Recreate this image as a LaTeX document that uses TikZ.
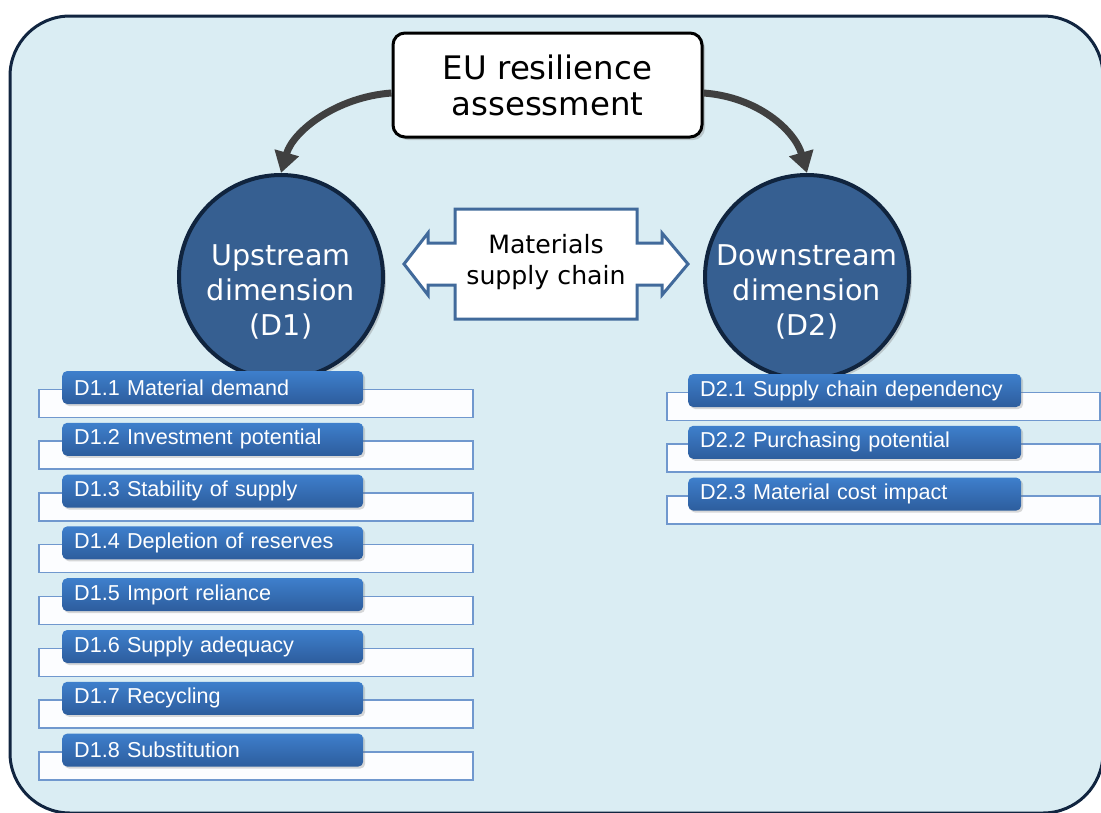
\documentclass[tikz,border=0pt]{standalone}
\usepackage{fontspec}
\setmainfont{Liberation Sans}
\newfontfamily\verdana{DejaVu Sans}
\usetikzlibrary{arrows.meta,shadows}

\definecolor{paneblue}{RGB}{218,237,243}
\definecolor{frameedge}{RGB}{17,37,64}
\definecolor{circlefill}{RGB}{54,95,145}
\definecolor{circleedge}{RGB}{16,36,62}
\definecolor{arrowgrey}{RGB}{64,64,64}
\definecolor{calloutedge}{RGB}{65,106,155}
\definecolor{bartop}{RGB}{62,127,204}
\definecolor{barbottom}{RGB}{45,93,157}
\definecolor{itemedge}{RGB}{112,152,206}
\definecolor{itemfill}{RGB}{252,253,255}

\tikzset{
  dimcircle/.style={circle, draw=circleedge, line width=4pt, fill=circlefill,
    minimum size=204pt, inner sep=0pt,
    drop shadow={shadow xshift=3pt, shadow yshift=-3pt, opacity=0.35}},
  dimtext/.style={text=white, align=center, font=\verdana\fontsize{28.6}{35}\selectfont},
  itemback/.style={draw=itemedge, line width=1.5pt, fill=itemfill, anchor=north west,
    minimum height=28pt, inner sep=0pt},
  itembar/.style={rounded corners=5pt, top color=bartop, bottom color=barbottom,
    minimum height=33pt, text=white, align=left, inner xsep=12pt, inner ysep=0pt, anchor=west,
    font=\fontsize{21.6}{25}\selectfont,
    drop shadow={shadow xshift=2pt, shadow yshift=-2pt, opacity=0.3}},
  bigarrow/.style={draw=arrowgrey, line width=7pt, -{Triangle[width=24pt,length=21pt]}},
}

\begin{document}
\begin{tikzpicture}[x=1pt,y=-1pt]
\useasboundingbox (0,0) rectangle (1101,812);
\clip (0,0) rectangle (1101,812);

% outer panel
\draw[draw=frameedge, line width=3pt, fill=paneblue, rounded corners=60pt] (10,16) rectangle (1103,813);

% the two dimensions
\node[dimcircle] (up) at (281,277) {};
\node[dimcircle] (down) at (807,277) {};
\node[dimtext] (uptext) at (281,292) {Upstream\\dimension\\(D1)};
\node[dimtext] (downtext) at (807,292) {Downstream\\dimension\\(D2)};

% top box
\node[draw=black, line width=3pt, fill=white, rounded corners=12pt,
  minimum width=309pt, minimum height=104pt, align=center,
  font=\verdana\fontsize{32.4}{36}\selectfont,
  drop shadow={shadow xshift=3pt, shadow yshift=-3pt, opacity=0.35}]
  (eu) at (547.5,85) {EU resilience\\assessment};

\draw[bigarrow] ([yshift=-8pt]eu.west) .. controls +(-55,4) and +(12,-42) .. (up.north);
\draw[bigarrow] ([yshift=-8pt]eu.east) .. controls +(55,4) and +(-12,-42) .. (down.north);

% double headed callout between the circles
\draw[draw=calloutedge, line width=3pt, fill=white, line join=miter]
  (455,209) -- (637,209) -- (637,243) -- (662,243) -- (662,233) -- (688,264)
  -- (662,295) -- (662,285) -- (637,285) -- (637,319) -- (455,319) -- (455,285)
  -- (428,285) -- (428,295) -- (404,264) -- (428,233) -- (428,243) -- (455,243) -- cycle;
\node[align=center, font=\verdana\fontsize{25.2}{31}\selectfont] (chain) at (546,262) {Materials\\supply chain};

% upstream indicators
\node[itemback, minimum width=434pt] (b11) at (38,388.5) {};
\node[itembar, text width=277pt] (d11) at (62,387.5) {D1.1 Material demand};
\node[itemback, minimum width=434pt] (b12) at (38,440.3) {};
\node[itembar, text width=277pt] (d12) at (62,439.3) {D1.2 Investment potential};
\node[itemback, minimum width=434pt] (b13) at (38,492.1) {};
\node[itembar, text width=277pt] (d13) at (62,491.1) {D1.3 Stability of supply};
\node[itemback, minimum width=434pt] (b14) at (38,543.9) {};
\node[itembar, text width=277pt] (d14) at (62,542.9) {D1.4 Depletion of reserves};
\node[itemback, minimum width=434pt] (b15) at (38,595.7) {};
\node[itembar, text width=277pt] (d15) at (62,594.7) {D1.5 Import reliance};
\node[itemback, minimum width=434pt] (b16) at (38,647.5) {};
\node[itembar, text width=277pt] (d16) at (62,646.5) {D1.6 Supply adequacy};
\node[itemback, minimum width=434pt] (b17) at (38,699.3) {};
\node[itembar, text width=277pt] (d17) at (62,698.3) {D1.7 Recycling};
\node[itemback, minimum width=434pt] (b18) at (38,751.1) {};
\node[itembar, text width=277pt] (d18) at (62,750.1) {D1.8 Substitution};

% downstream indicators
\node[itemback, minimum width=433pt] (b21) at (666,391.5) {};
\node[itembar, text width=309pt] (d21) at (688,390.5) {D2.1 Supply chain dependency};
\node[itemback, minimum width=433pt] (b22) at (666,443.3) {};
\node[itembar, text width=309pt] (d22) at (688,442.3) {D2.2 Purchasing potential};
\node[itemback, minimum width=433pt] (b23) at (666,495.1) {};
\node[itembar, text width=309pt] (d23) at (688,494.1) {D2.3 Material cost impact};

\end{tikzpicture}
\end{document}
